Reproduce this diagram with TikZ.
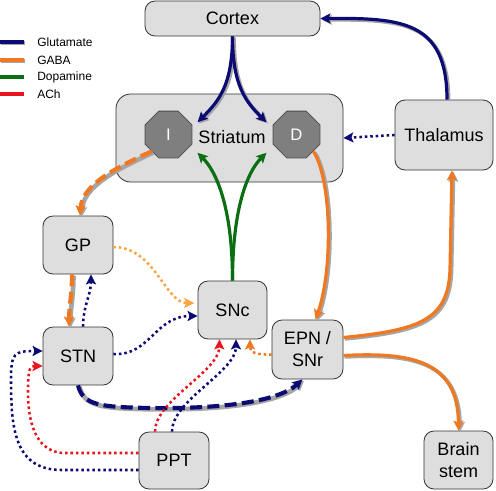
\documentclass[tikz,border=0pt]{standalone}
\usepackage{fontspec}
\setmainfont{Liberation Sans}
\usetikzlibrary{arrows.meta,shapes.geometric,calc}
\definecolor{glucol}{HTML}{0B0B73}
\definecolor{gabacol}{HTML}{F07820}
\definecolor{gabalight}{HTML}{F7A545}
\definecolor{dopcol}{HTML}{0A6E12}
\definecolor{achcol}{HTML}{E8141E}
\definecolor{boxgray}{HTML}{DEDEDE}
\definecolor{octgray}{HTML}{7F7F7F}
\definecolor{shadcol}{HTML}{A6A6A6}
\begin{document}
\begin{tikzpicture}[x=0.75pt,y=-0.75pt,
  box/.style={draw=black!80, fill=boxgray, rounded corners=7.5pt, line width=0.6pt,
    font=\fontsize{13.5pt}{16.5pt}\selectfont, align=center, inner sep=0pt},
  oct/.style={regular polygon, regular polygon sides=8, minimum size=38pt, inner sep=0pt,
    fill=octgray, draw=black!70, line width=0.6pt, text=white, font=\fontsize{12.5pt}{14pt}\selectfont},
  legtext/.style={anchor=west, inner sep=0pt, font=\fontsize{9pt}{10pt}\selectfont},
  glu/.style={draw=glucol, line width=2.4pt},
  gaba/.style={draw=gabacol, line width=2.4pt},
  gabal/.style={draw=gabalight, line width=2.4pt},
  dop/.style={draw=dopcol, line width=2.4pt},
  ach/.style={draw=achcol, line width=2.4pt},
  shad/.style={preaction={draw=shadcol, line width=2.9pt, transform canvas={shift={(1.1pt,-1pt)}}}},
  dshad/.style={preaction={draw=shadcol, line width=3.5pt, transform canvas={shift={(1.1pt,-1pt)}}}},
  dotl/.style={line width=1.9pt, dash pattern=on 1.9pt off 2.2pt},
  dashl/.style={line width=3.1pt, dash pattern=on 9pt off 4pt},
  arr/.style={-{Stealth[length=7.5pt,width=7.5pt,inset=1.5pt]}}
]
\useasboundingbox (0,0) rectangle (496,490);

% legend
\node[legtext] (lg1) at (37,42) {Glutamate};
\node[legtext] (lg2) at (37,60) {GABA};
\node[legtext] (lg3) at (37,77) {Dopamine};
\node[legtext] (lg4) at (37,94) {ACh};
\draw[glu,shad,line width=2.8pt] (0,42) -- (24,42);
\draw[gaba,shad,line width=2.8pt] (0,60) -- (24,60);
\draw[dop,line width=2.8pt] (0,77) -- (24,77);
\draw[ach,line width=2.8pt] (0,94) -- (24,94);

% nodes
\node[box, minimum width=131.25pt, minimum height=26.25pt] (cortex) at (232.5,18.5) {Cortex};
\node[box, rounded corners=11pt, minimum width=170.25pt, minimum height=66pt] (striatum) at (229.5,138) {};
\node[oct] (I) at (168.5,134.5) {I};
\node[oct] (D) at (296.5,134.5) {D};
\node[font=\fontsize{13.5pt}{16.5pt}\selectfont, inner xsep=0.5pt, inner ysep=0pt, minimum height=22.5pt] (st) at (232,137.5) {Striatum};
\node[box, minimum width=73.5pt, minimum height=52.5pt] (thal) at (444,135) {Thalamus};
\node[box, minimum width=52.5pt, minimum height=43.5pt] (gp) at (78,245) {GP};
\node[box, minimum width=52.5pt, minimum height=43.5pt] (stn) at (78,356) {STN};
\node[box, minimum width=51.75pt, minimum height=43.5pt] (snc) at (232.5,310) {SNc};
\node[box, minimum width=53.25pt, minimum height=44.25pt] (epn) at (307.5,349.5) {EPN /\\SNr};
\node[box, minimum width=52.5pt, minimum height=42.75pt] (ppt) at (174,460.5) {PPT};
\node[box, minimum width=51.75pt, minimum height=43.5pt] (brain) at (458.5,460) {Brain\\stem};

% glutamate
\draw[glu,shad,arr] (cortex.south) .. controls +(0,50) and +(20,-20) .. (st.north west);
\draw[glu,shad,arr] (cortex.south) .. controls +(0,50) and +(-20,-20) .. (st.north east);
\draw[glu,shad,arr] ($(thal.north)+(3,0)$) .. controls (447,20) and (400,18) .. (cortex.east);
\draw[glu,dotl,arr] (thal.west) -- (striatum.east);

% GABA
\draw[gaba,dashl,dshad,arr] (I.south west) .. controls (115,168) and (82,185) .. ($(gp.north)+(2,0)$);
\draw[gaba,shad,arr] (D.south east) .. controls (332,180) and (333,270) .. ($(epn.north)+(8,0)$);
\draw[gaba,shad,arr] ($(epn.east)+(0,-12)$) .. controls (420,330) and (448,320) .. (450,270) -- ($(thal.south)+(8,0)$);
\draw[gaba,shad,arr] ($(epn.east)+(0,6)$) .. controls (410,352) and (458,360) .. (brain.north);
\draw[gaba,dashl,dshad,arr] ($(gp.south)+(-6,0)$) .. controls +(0,20) and +(0,-20) .. ($(stn.north)+(-9,0)$);

% dopamine
\draw[dop,arr] (snc.north) .. controls +(0,-75) and +(18,18) .. (st.south west);
\draw[dop,arr] (snc.north) .. controls +(0,-75) and +(-18,18) .. (st.south east);

% dotted & others
\draw[glu,dotl,arr] ($(stn.north)+(5,0)$) .. controls +(0,-20) and +(0,20) .. ($(gp.south)+(13,0)$);
\draw[gabal,dotl,arr,shorten >=2.5pt] ($(gp.east)+(0,2)$) .. controls (155,247) and (165,303) .. ($(snc.west)+(0,-7)$);
\draw[glu,dotl,arr] ($(stn.east)+(0,-2)$) .. controls (150,356) and (155,316) .. ($(snc.west)+(0,6)$);
\draw[glu,dashl,dshad,arr] (stn.south) .. controls +(5,20) and (100,407) .. (150,408) .. controls (230,409) and (280,400) .. ($(epn.south)+(-5,0)$);
\draw[gaba,dotl,arr] ($(epn.west)+(0,5)$) .. controls (255,355) and (250,352) .. ($(snc.south)+(17.5,0)$);
\draw[ach,dotl,arr] ($(ppt.north)+(-19,0)$) .. controls (155,400) and (219,372) .. ($(snc.south)+(-13,0)$);
\draw[glu,dotl,arr] ($(ppt.north)+(-2,0)$) .. controls (172,400) and (236,372) .. ($(snc.south)+(3.5,0)$);
\draw[ach,dotl,arr] ($(ppt.west)+(0,-7.5)$) -- (65,453) .. controls (40,453) and (28,430) .. (28,392) .. controls (28,368) and (30,366) .. ($(stn.west)+(0,10)$);
\draw[glu,dotl,arr] ($(ppt.west)+(0,9.5)$) -- (62,470) .. controls (15,470) and (11,430) .. (11,380) .. controls (11,353) and (14,351) .. ($(stn.west)+(0,-5)$);
\end{tikzpicture}
\end{document}
